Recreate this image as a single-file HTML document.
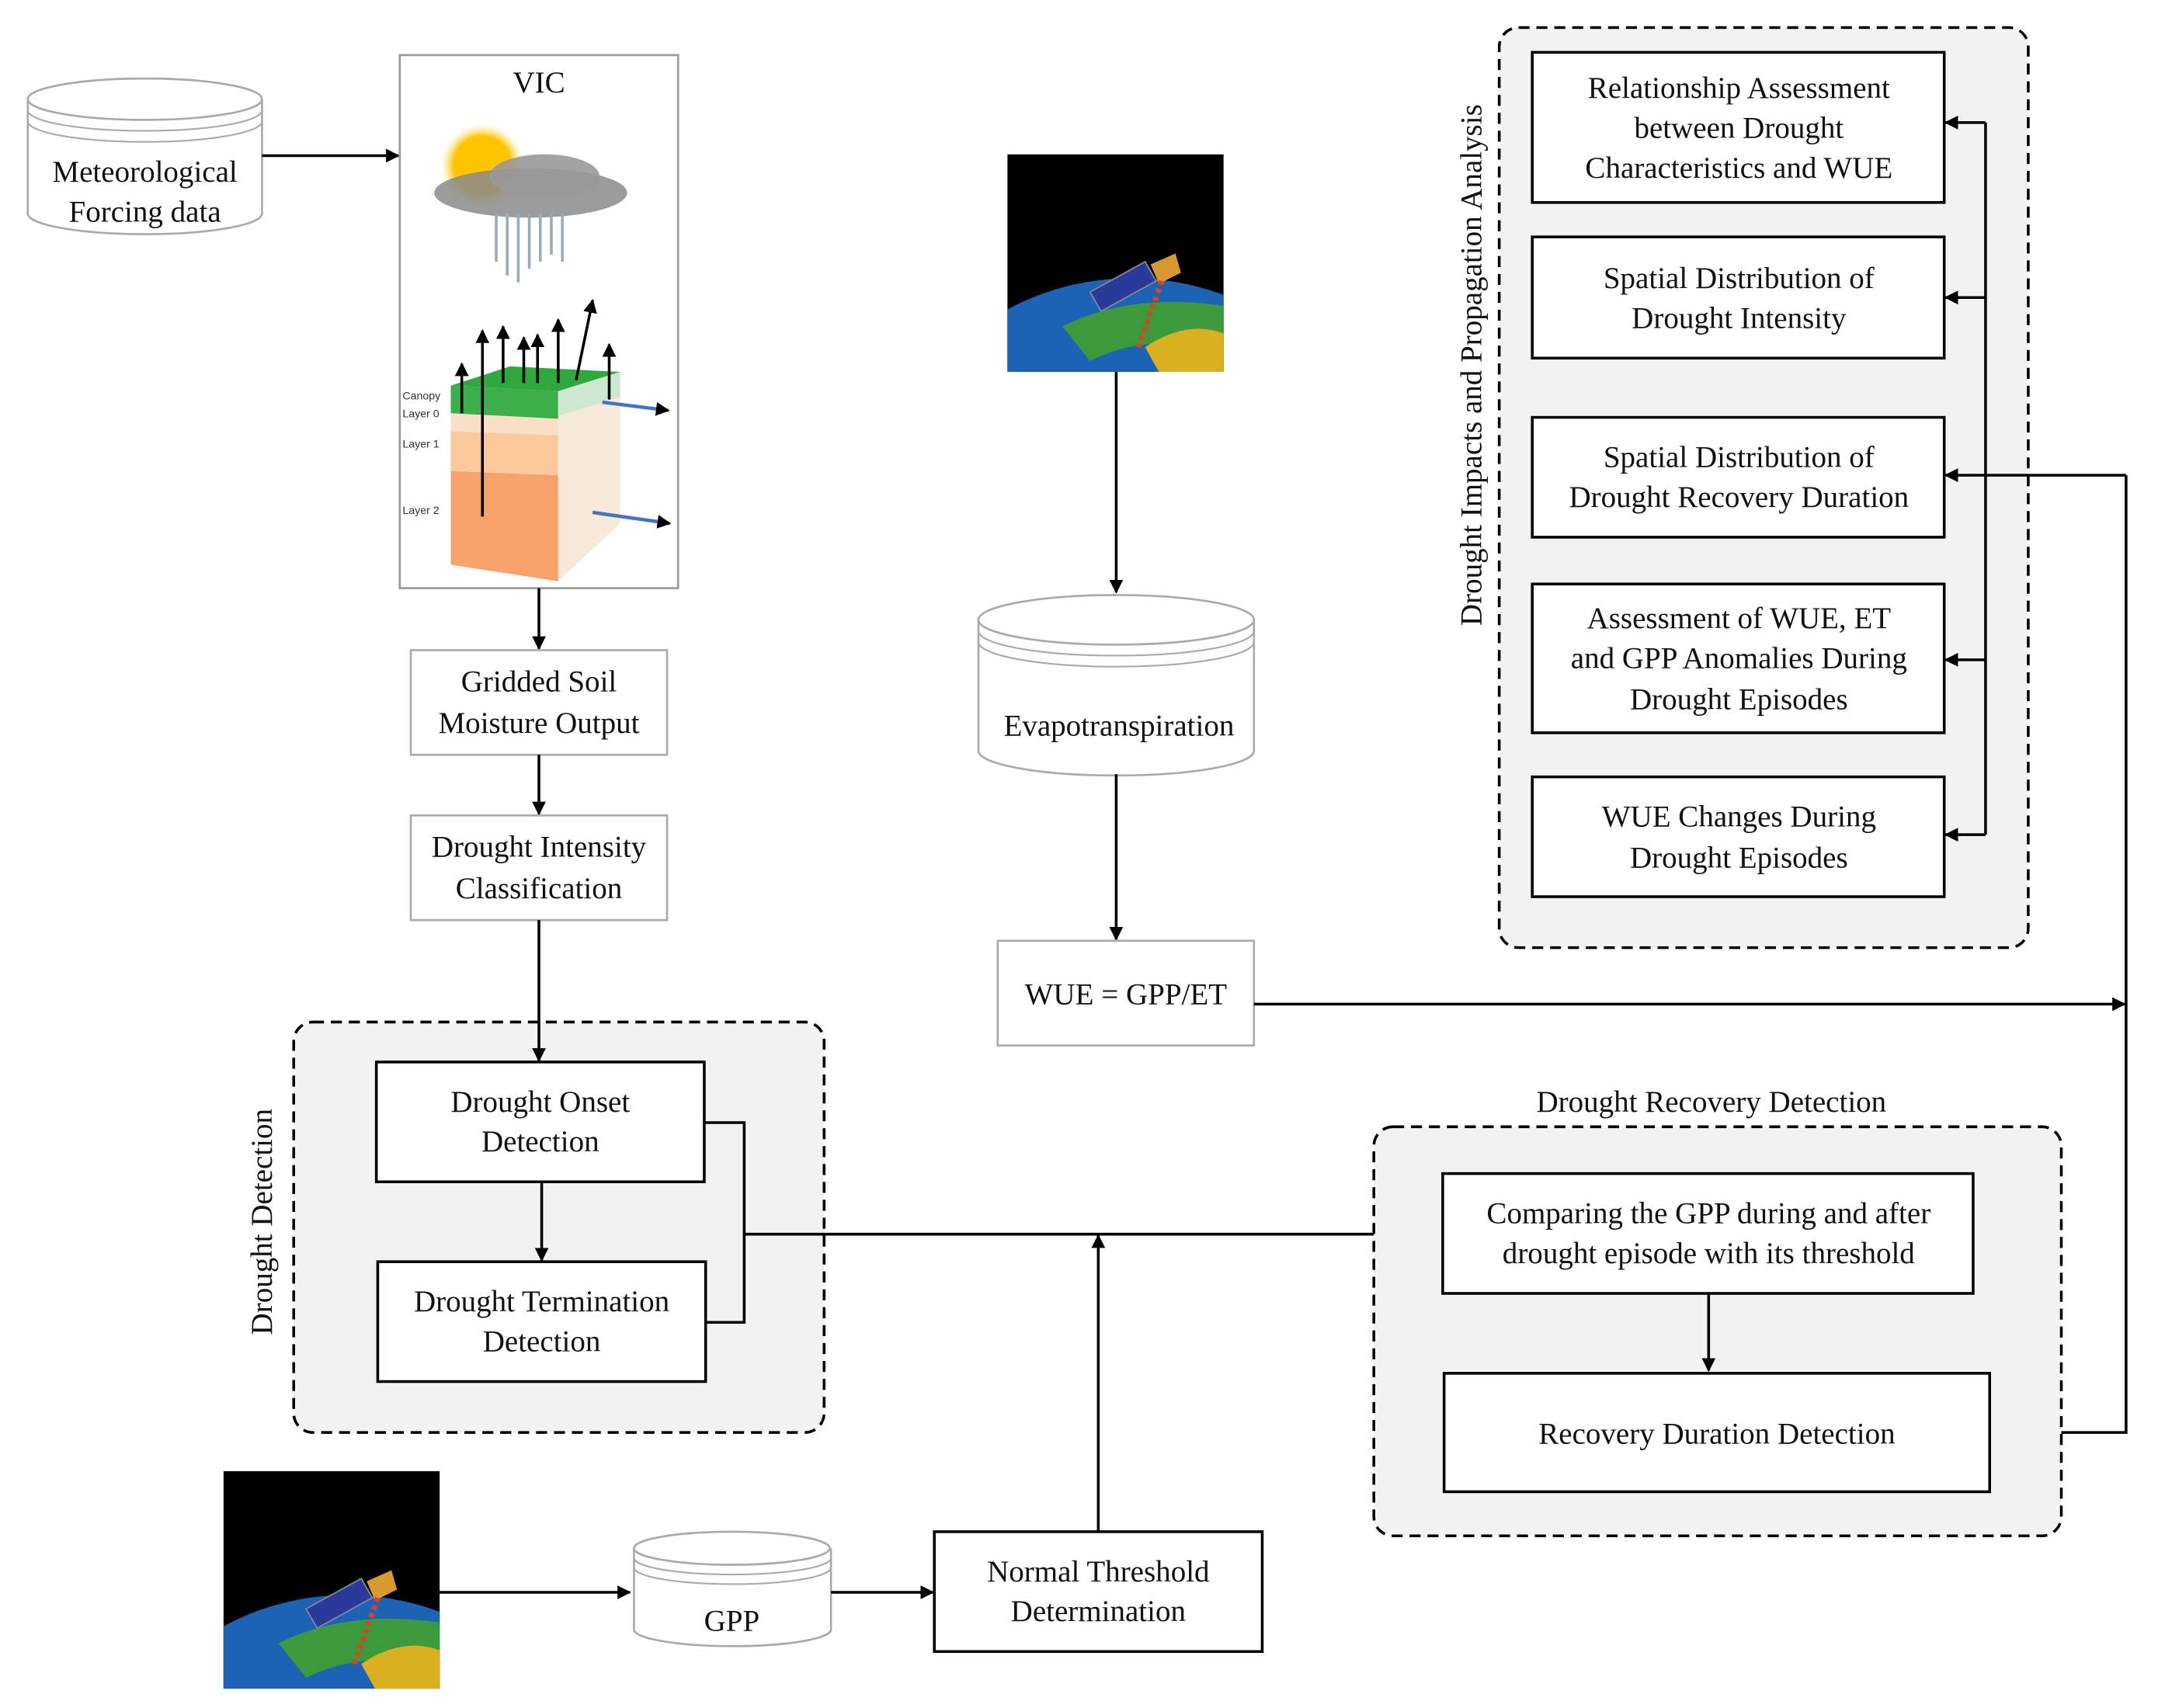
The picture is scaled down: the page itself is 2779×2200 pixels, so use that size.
<!DOCTYPE html>
<html><head><meta charset="utf-8"><style>
html,body{margin:0;padding:0;background:#fff;overflow:hidden;width:2779px;height:2200px}
svg{display:block}
text{font-family:"Liberation Serif",serif;fill:#111}
.t{font-size:22px;text-anchor:middle}
.s{font-family:"Liberation Sans",sans-serif;font-size:8px;fill:#333}
</style></head><body>
<svg width="2779" height="2200" viewBox="0 0 1566 1240" xmlns="http://www.w3.org/2000/svg">
<defs>
<marker id="a" markerWidth="10" markerHeight="10" refX="9" refY="5" orient="auto" markerUnits="userSpaceOnUse"><path d="M0,0 L10,5 L0,10 z" fill="#000"/></marker>
<radialGradient id="sun" cx="0.5" cy="0.5" r="0.5"><stop offset="0.7" stop-color="#ffc400"/><stop offset="1" stop-color="#ffe680" stop-opacity="0"/></radialGradient>
<symbol id="sat" viewBox="0 0 157 158" overflow="hidden">
<rect width="157" height="158" fill="#000"/>
<ellipse cx="90" cy="240" rx="170" ry="150" fill="#1d63b5"/>
<path d="M40,125 Q90,100 157,110 L157,140 Q100,130 60,150 Z" fill="#3c9a3c"/>
<path d="M100,140 Q130,120 157,130 L157,158 L110,158 Z" fill="#d8b020"/>
<polygon points="60,100 100,78 108,92 68,114" fill="#2a3a9a" stroke="#889" stroke-width="1"/>
<polygon points="104,80 122,72 126,86 110,94" fill="#d89a30"/>
<line x1="112" y1="92" x2="95" y2="140" stroke="#e04020" stroke-width="4" stroke-dasharray="3,3"/>
</symbol>
</defs>

<path d="M20,72 L20,155 A85,15 0 0 0 190,155 L190,72" fill="#fff" stroke="#aaa" stroke-width="1.5"/>
<ellipse cx="105" cy="72" rx="85" ry="15" fill="#fff" stroke="#aaa" stroke-width="1.5"/>
<path d="M20,80 A85,15 0 0 0 190,80 M20,88 A85,15 0 0 0 190,88" fill="none" stroke="#aaa" stroke-width="1.2"/>
<text class="t" x="105" y="132">Meteorological</text>
<text class="t" x="105" y="161">Forcing data</text>
<line x1="190" y1="113" x2="289" y2="113" stroke="#000" stroke-width="2" marker-end="url(#a)"/>

<rect x="290" y="40" width="202" height="387" fill="#fff" stroke="#999" stroke-width="1.5"/>
<text class="t" x="391" y="67">VIC</text>
<circle cx="350" cy="120" r="30" fill="url(#sun)"/>
<ellipse cx="385" cy="140" rx="70" ry="18" fill="#8a8a8a" opacity="0.85"/>
<ellipse cx="395" cy="128" rx="40" ry="16" fill="#999" opacity="0.9"/>
<g stroke="#9ab" stroke-width="2">
<line x1="360" y1="155" x2="360" y2="190"/><line x1="368" y1="155" x2="368" y2="200"/><line x1="376" y1="155" x2="376" y2="205"/><line x1="384" y1="155" x2="384" y2="195"/><line x1="392" y1="155" x2="392" y2="190"/><line x1="400" y1="155" x2="400" y2="185"/><line x1="408" y1="155" x2="408" y2="190"/>
</g>
<polygon points="327,342 405,345 405,422 327,410" fill="#f5a36a"/>
<polygon points="327,313 405,316 405,345 327,342" fill="#fcc99a"/>
<polygon points="327,300 405,304 405,316 327,313" fill="#fae0c6"/>
<polygon points="327,280 405,284 405,304 327,300" fill="#3cae4a"/>
<polygon points="327,280 405,284 450,270 370,266" fill="#2fa83d"/>
<polygon points="405,284 450,270 450,380 405,422" fill="#f7ead8"/>
<polygon points="405,284 450,270 450,288 405,302" fill="#cfe6cf"/>
<g stroke="#000" stroke-width="2">
<line x1="335" y1="300" x2="335" y2="264" marker-end="url(#a)"/>
<line x1="350" y1="375" x2="350" y2="240" marker-end="url(#a)"/>
<line x1="365" y1="278" x2="365" y2="237" marker-end="url(#a)"/>
<line x1="380" y1="278" x2="380" y2="245" marker-end="url(#a)"/>
<line x1="390" y1="278" x2="390" y2="243" marker-end="url(#a)"/>
<line x1="405" y1="278" x2="405" y2="232" marker-end="url(#a)"/>
<line x1="418" y1="276" x2="430" y2="218" marker-end="url(#a)"/>
<line x1="442" y1="290" x2="442" y2="250" marker-end="url(#a)"/>
</g>
<g stroke="#4472c4" stroke-width="2.5">
<line x1="437" y1="292" x2="485" y2="298" marker-end="url(#a)"/>
<line x1="430" y1="372" x2="486" y2="380" marker-end="url(#a)"/>
</g>
<text class="s" x="292" y="290">Canopy</text><text class="s" x="292" y="303">Layer 0</text>
<text class="s" x="292" y="325">Layer 1</text><text class="s" x="292" y="373">Layer 2</text>
<line x1="391" y1="427" x2="391" y2="471" stroke="#000" stroke-width="2" marker-end="url(#a)"/>

<rect x="298" y="472" width="186" height="76" fill="#fff" stroke="#aaa" stroke-width="1.5"/>
<text class="t" x="391" y="502">Gridded Soil</text><text class="t" x="391" y="532">Moisture Output</text>
<line x1="391" y1="548" x2="391" y2="591" stroke="#000" stroke-width="2" marker-end="url(#a)"/>
<rect x="298" y="592" width="186" height="76" fill="#fff" stroke="#aaa" stroke-width="1.5"/>
<text class="t" x="391" y="622">Drought Intensity</text><text class="t" x="391" y="652">Classification</text>

<rect x="213" y="742" width="385" height="298" rx="14" fill="#f2f2f2" stroke="#000" stroke-width="2" stroke-dasharray="8,5"/>
<text class="t" transform="translate(197,887) rotate(-90)">Drought Detection</text>
<line x1="391" y1="668" x2="391" y2="770" stroke="#000" stroke-width="2" marker-end="url(#a)"/>
<rect x="273" y="771" width="238" height="87" fill="#fff" stroke="#000" stroke-width="2"/>
<text class="t" x="392" y="807">Drought Onset</text><text class="t" x="392" y="836">Detection</text>
<line x1="393" y1="858" x2="393" y2="915" stroke="#000" stroke-width="2" marker-end="url(#a)"/>
<rect x="274" y="916" width="238" height="87" fill="#fff" stroke="#000" stroke-width="2"/>
<text class="t" x="393" y="952">Drought Termination</text><text class="t" x="393" y="981">Detection</text>
<polyline points="511,815 540,815 540,960 512,960" fill="none" stroke="#000" stroke-width="2"/>
<line x1="540" y1="896" x2="1047" y2="896" stroke="#000" stroke-width="2"/>
<line x1="797" y1="1112" x2="797" y2="897" stroke="#000" stroke-width="2" marker-end="url(#a)"/>

<use href="#sat" x="162" y="1068" width="157" height="158"/>
<line x1="318" y1="1156" x2="457" y2="1156" stroke="#000" stroke-width="2" marker-end="url(#a)"/>
<path d="M460,1124 L460,1183 A71,12 0 0 0 603,1183 L603,1124" fill="#fff" stroke="#aaa" stroke-width="1.5"/>
<ellipse cx="531" cy="1124" rx="71" ry="12" fill="#fff" stroke="#aaa" stroke-width="1.5"/>
<path d="M460,1131 A71,12 0 0 0 603,1131 M460,1138 A71,12 0 0 0 603,1138" fill="none" stroke="#aaa" stroke-width="1.2"/>
<text class="t" x="531" y="1184">GPP</text>
<line x1="603" y1="1156" x2="677" y2="1156" stroke="#000" stroke-width="2" marker-end="url(#a)"/>
<rect x="678" y="1112" width="238" height="87" fill="#fff" stroke="#000" stroke-width="2"/>
<text class="t" x="797" y="1148">Normal Threshold</text><text class="t" x="797" y="1177">Determination</text>

<use href="#sat" x="731" y="112" width="157" height="158"/>
<line x1="810" y1="270" x2="810" y2="430" stroke="#000" stroke-width="2" marker-end="url(#a)"/>
<path d="M710,450 L710,545 A100,18 0 0 0 910,545 L910,450" fill="#fff" stroke="#aaa" stroke-width="1.5"/>
<ellipse cx="810" cy="450" rx="100" ry="18" fill="#fff" stroke="#aaa" stroke-width="1.5"/>
<path d="M710,458 A100,18 0 0 0 910,458 M710,466 A100,18 0 0 0 910,466" fill="none" stroke="#aaa" stroke-width="1.2"/>
<text class="t" x="812" y="534">Evapotranspiration</text>
<line x1="810" y1="562" x2="810" y2="682" stroke="#000" stroke-width="2" marker-end="url(#a)"/>
<rect x="724" y="683" width="186" height="76" fill="#fff" stroke="#aaa" stroke-width="1.5"/>
<text class="t" x="817" y="729">WUE = GPP/ET</text>
<line x1="910" y1="729" x2="1542" y2="729" stroke="#000" stroke-width="2" marker-end="url(#a)"/>

<rect x="1088" y="20" width="384" height="668" rx="14" fill="#f2f2f2" stroke="#000" stroke-width="2" stroke-dasharray="8,5"/>
<text class="t" transform="translate(1075,265) rotate(-90)">Drought Impacts and Propagation Analysis</text>
<g fill="#fff" stroke="#000" stroke-width="2">
<rect x="1112" y="38" width="299" height="109"/>
<rect x="1112" y="172" width="299" height="88"/>
<rect x="1112" y="303" width="299" height="87"/>
<rect x="1112" y="424" width="299" height="108"/>
<rect x="1112" y="564" width="299" height="87"/>
</g>
<text class="t" x="1262" y="71">Relationship Assessment</text>
<text class="t" x="1262" y="100">between Drought</text>
<text class="t" x="1262" y="129">Characteristics and WUE</text>
<text class="t" x="1262" y="209">Spatial Distribution of</text>
<text class="t" x="1262" y="238">Drought Intensity</text>
<text class="t" x="1262" y="339">Spatial Distribution of</text>
<text class="t" x="1262" y="368">Drought Recovery Duration</text>
<text class="t" x="1262" y="456">Assessment of WUE, ET</text>
<text class="t" x="1262" y="485">and GPP Anomalies During</text>
<text class="t" x="1262" y="515">Drought Episodes</text>
<text class="t" x="1262" y="600">WUE Changes During</text>
<text class="t" x="1262" y="630">Drought Episodes</text>
<line x1="1441" y1="89" x2="1441" y2="606" stroke="#000" stroke-width="2"/>
<g stroke="#000" stroke-width="2">
<line x1="1441" y1="89" x2="1412" y2="89" marker-end="url(#a)"/>
<line x1="1441" y1="216" x2="1412" y2="216" marker-end="url(#a)"/>
<line x1="1441" y1="479" x2="1412" y2="479" marker-end="url(#a)"/>
<line x1="1441" y1="606" x2="1412" y2="606" marker-end="url(#a)"/>
<polyline points="1444,1040 1543,1040 1543,345" fill="none"/>
<line x1="1543" y1="345" x2="1412" y2="345" marker-end="url(#a)"/>
</g>

<text class="t" x="1242" y="807">Drought Recovery Detection</text>
<rect x="997" y="818" width="499" height="297" rx="14" fill="#f2f2f2" stroke="#000" stroke-width="2" stroke-dasharray="8,5"/>
<rect x="1047" y="852" width="385" height="87" fill="#fff" stroke="#000" stroke-width="2"/>
<text class="t" x="1240" y="888">Comparing the GPP during and after</text>
<text class="t" x="1240" y="917">drought episode with its threshold</text>
<line x1="1240" y1="939" x2="1240" y2="995" stroke="#000" stroke-width="2" marker-end="url(#a)"/>
<rect x="1048" y="997" width="396" height="86" fill="#fff" stroke="#000" stroke-width="2"/>
<text class="t" x="1246" y="1048">Recovery Duration Detection</text>
</svg>
</body></html>
